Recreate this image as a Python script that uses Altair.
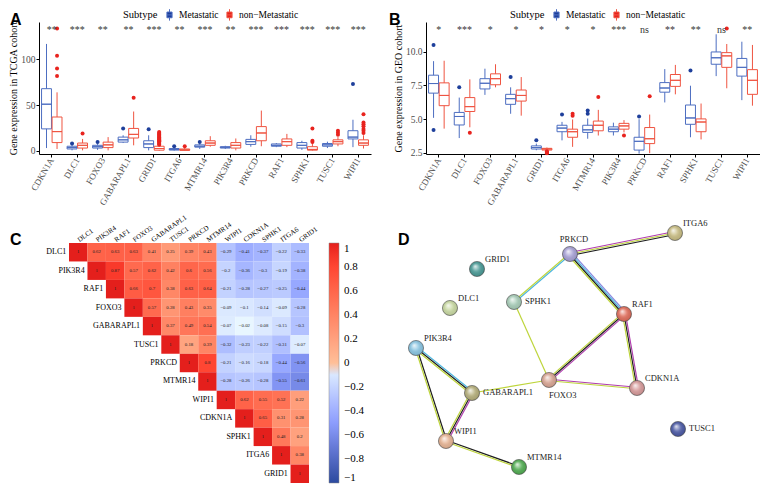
import altair as alt
import pandas as pd
import math

SERIF = "Liberation Serif"
SANS = "Liberation Sans"

genes = ["CDKN1A", "DLC1", "FOXO3", "GABARAPL1", "GRID1", "ITGA6", "MTMR14",
         "PIK3R4", "PRKCD", "RAF1", "SPHK1", "TUSC1", "WIPI1"]
groups = ["Metastatic", "non\u2212Metastatic"]

# box stats: [lower whisker, q1, median, q3, upper whisker]
tcga_met = [[3, 24, 51, 68, 117], [0.5, 2, 3.5, 5, 7], [1, 3, 4.5, 6, 8], [8.5, 9.5, 12, 15, 17],
            [0.5, 3.5, 7.5, 11, 17], [0.2, 0.8, 1.5, 2.5, 4], [2, 4, 5, 6.5, 8], [2, 3, 3.8, 4.5, 5.5],
            [4.5, 7, 10, 12.5, 17], [4, 5, 6, 7.5, 8.5], [1, 3, 6, 9, 11], [3, 5, 6.5, 8, 10],
            [4, 13, 15, 22, 34]]
tcga_non = [[2, 9, 21, 37, 64], [0.5, 3, 6, 8.5, 13], [0.5, 3.5, 6.5, 9.5, 15], [6, 14, 18, 24.5, 43],
            [0.1, 0.7, 2.5, 5, 5.5], [0.1, 0.5, 1, 2, 3.5], [4.5, 6, 8.5, 11, 16], [0.5, 3, 6, 9, 13.5],
            [5, 11, 19.5, 26.5, 44], [4, 6, 10, 13, 18.5], [0.2, 0.7, 1.5, 4.5, 8.5], [5, 7.5, 10, 12, 15],
            [2.5, 6, 8.5, 12, 17]]
tcga_out_met = {"DLC1": [8], "FOXO3": [9.5], "GABARAPL1": [24.5], "GRID1": [23.5], "ITGA6": [5],
                "MTMR14": [9.5], "WIPI1": [73]}
tcga_out_non = {"CDKN1A": [82, 90, 104, 134], "DLC1": [19], "GABARAPL1": [58],
                "GRID1": [6.5, 7.5, 8.5, 9.5, 10.5, 11.5, 12.5, 13.5, 14.5, 15.5, 16.5, 17.5, 18.5, 19.5, 20.5],
                "ITGA6": [5], "SPHK1": [9.5, 11, 24.5], "TUSC1": [17.7, 19.7, 22],
                "WIPI1": [19.5, 22, 24, 27, 29, 31, 40]}
tcga_stars = ["**", "***", "**", "**", "***", "**", "***", "**", "***", "***", "***", "***", "***"]

geo_met = [[5.1, 6.93, 7.64, 8.26, 9.3], [3.6, 4.57, 5.2, 5.5, 6.6], [6.8, 7.24, 7.66, 8.0, 8.74],
           [5.4, 6.1, 6.52, 6.84, 7.36], [2.7, 2.79, 2.9, 3.02, 3.19], [3.43, 4.07, 4.34, 4.55, 4.8],
           [3.55, 4.02, 4.21, 4.55, 5.05], [3.79, 4.07, 4.26, 4.43, 4.74], [2.45, 2.71, 3.36, 3.66, 5.0],
           [6.24, 7.0, 7.31, 7.71, 8.71], [3.66, 4.62, 5.09, 6.05, 7.48], [8.19, 9.07, 9.55, 9.98, 11.29],
           [6.41, 8.19, 8.84, 9.5, 10.74]]
geo_non = [[4.3, 6.0, 6.76, 7.69, 9.33], [4.4, 5.57, 5.93, 6.6, 7.95], [7.36, 7.55, 8.0, 8.36, 9.07],
           [5.26, 6.34, 6.76, 7.16, 8.12], [2.7, 2.71, 2.79, 2.84, 2.9], [2.95, 3.66, 4.07, 4.26, 4.98],
           [3.79, 4.14, 4.55, 4.86, 5.69], [4.02, 4.26, 4.5, 4.69, 4.93], [2.48, 3.19, 3.55, 4.38, 5.34],
           [6.84, 7.43, 7.88, 8.31, 9.02], [3.5, 4.07, 4.79, 5.02, 6.16], [7.29, 8.84, 9.69, 9.93, 10.57],
           [6.0, 6.84, 7.88, 8.67, 10.5]]
geo_out_met = {"CDKN1A": [10.5, 4.2], "DLC1": [7.36], "GABARAPL1": [8.12], "GRID1": [3.43],
               "ITGA6": [5.34], "MTMR14": [5.64, 5.4], "PRKCD": [5.2], "SPHK1": [8.6]}
geo_out_non = {"DLC1": [4.0], "GRID1": [2.62, 2.57, 2.52, 2.47], "ITGA6": [5.4, 5.26], "MTMR14": [6.64],
               "PIK3R4": [3.79], "PRKCD": [6.69], "TUSC1": [11.71]}
geo_stars = ["*", "***", "*", "*", "*", "*", "*", "***", "ns", "**", "**", "ns", "**"]

# correlation matrix (upper triangle, each row starts at the diagonal)
corr_genes = ["DLC1", "PIK3R4", "RAF1", "FOXO3", "GABARAPL1", "TUSC1", "PRKCD", "MTMR14",
              "WIPI1", "CDKN1A", "SPHK1", "ITGA6", "GRID1"]
corr_upper = [
    [1, 0.62, 0.63, 0.63, 0.41, 0.25, 0.39, 0.43, -0.29, -0.41, -0.37, -0.22, -0.33],
    [1, 0.87, 0.57, 0.62, 0.42, 0.6, 0.56, -0.2, -0.36, -0.3, -0.19, -0.38],
    [1, 0.66, 0.7, 0.38, 0.63, 0.64, -0.21, -0.28, -0.27, -0.25, -0.44],
    [1, 0.57, 0.28, 0.43, 0.35, -0.09, -0.1, -0.14, -0.09, -0.28],
    [1, 0.37, 0.49, 0.54, -0.07, -0.02, -0.08, -0.15, -0.3],
    [1, 0.18, 0.39, -0.32, -0.23, -0.22, -0.31, -0.07],
    [1, 0.8, -0.21, -0.16, -0.18, -0.44, -0.56],
    [1, -0.28, -0.26, -0.28, -0.55, -0.61],
    [1, 0.62, 0.55, 0.52, 0.22],
    [1, 0.65, 0.31, 0.28],
    [1, 0.48, 0.2],
    [1, 0.38],
    [1],
]
legend_ticks = [-1, -0.8, -0.6, -0.4, -0.2, 0, 0.2, 0.4, 0.6, 0.8, 1]

# STRING network
node_names = ["PRKCD", "ITGA6", "GRID1", "DLC1", "SPHK1", "RAF1", "PIK3R4", "FOXO3", "CDKN1A",
              "GABARAPL1", "TUSC1", "WIPI1", "MTMR14"]
node_x = [570, 675, 477, 450, 514, 624, 416, 549, 637, 472, 678, 446, 519]
node_y = [253, 232, 268, 307, 301, 313, 347, 379, 387, 392, 428, 440, 466]
node_colors = ["#A9A3D6", "#C9BE86", "#4E9C98", "#C9D9A4", "#A9CDB9", "#E0705E", "#8CC6E2",
               "#D9A796", "#D79C9C", "#B6B07E", "#4F5DA6", "#E6B596", "#55AE56"]
edges = [
    ("PRKCD", "ITGA6", ["experiments", "textmining", "coexpression"]),
    ("PRKCD", "SPHK1", ["database", "textmining"]),
    ("PRKCD", "RAF1", ["homology", "database", "coexpression", "textmining"]),
    ("SPHK1", "FOXO3", ["textmining"]),
    ("RAF1", "FOXO3", ["experiments", "coexpression", "textmining"]),
    ("RAF1", "CDKN1A", ["experiments", "coexpression", "textmining"]),
    ("FOXO3", "CDKN1A", ["experiments", "textmining"]),
    ("FOXO3", "GABARAPL1", ["textmining"]),
    ("PIK3R4", "GABARAPL1", ["database", "coexpression", "textmining"]),
    ("PIK3R4", "WIPI1", ["coexpression", "textmining"]),
    ("GABARAPL1", "WIPI1", ["experiments", "coexpression", "textmining"]),
    ("WIPI1", "MTMR14", ["coexpression", "textmining"]),
]
evidence = ["experiments", "textmining", "coexpression", "database", "homology"]
evidence_colors = ["#B03DAE", "#BED53C", "#1E1E1E", "#4DB6DF", "#8A8AE0"]

# ---------------------------------------------------------------- box panels
BOX_STROKE = ["#4D6EC1", "#EF5441"]
OUT_FILL = ["#1E3F9B", "#E8231E"]
box_sym = "M-0.45,-0.5H0.45V0.5H-0.45Z M-0.45,0H0.45 M0,-0.5V-1 M0,0.5V1"


def box_panel(met, non, out_met, out_non, stars, ydom, yvals, yfmt, ytitle, letter, w, h, lx, letter_x):
    rows = []
    for g, m, n in zip(genes, met, non):
        for grp, s in ((groups[0], m), (groups[1], n)):
            rows.append(dict(gene=g, grp=grp, lo=s[0], q1=s[1], med=s[2], q3=s[3], hi=s[4]))
    df = pd.DataFrame(rows)
    outs = []
    for grp, od in ((groups[0], out_met), (groups[1], out_non)):
        for g, vs in od.items():
            for v in vs:
                outs.append(dict(gene=g, grp=grp, v=v))
    odf = pd.DataFrame(outs)
    sdf = pd.DataFrame(dict(gene=genes, s=stars))

    xenc = alt.X("gene:N", sort=genes, scale=alt.Scale(paddingInner=0.2, paddingOuter=0.1),
                 axis=alt.Axis(title=None, labelAngle=-60, labelAlign="right", labelBaseline="middle",
                               labelFont=SERIF, labelFontSize=9, labelColor="#4D4D4D",
                               domainColor="black", tickColor="black", tickSize=3, labelPadding=1))
    xoff = alt.XOffset("grp:N", sort=groups, scale=alt.Scale(paddingInner=0.06))
    yscale = alt.Scale(domain=ydom, nice=False, zero=False)
    yaxis = alt.Axis(title=ytitle, values=yvals, format=yfmt, grid=False, domainColor="black",
                     tickColor="black", tickSize=3, labelFont=SERIF, labelFontSize=9.5,
                     labelColor="#4D4D4D", labelPadding=1, titleFont=SERIF, titleFontSize=10,
                     titleFontWeight="normal", titlePadding=2, titleColor="black")
    sscale = alt.Scale(domain=groups, range=BOX_STROKE)
    leg = alt.Legend(title="Subtype", orient="none", direction="horizontal",
                     titleOrient="left", legendX=lx, legendY=-14,
                     symbolType=box_sym, symbolSize=130, symbolStrokeWidth=1,
                     symbolFillColor="white",
                     titleFont=SERIF, titleFontSize=10.5,
                     titleFontWeight="normal", labelFont=SERIF, labelFontSize=9.5,
                     columnPadding=4, titlePadding=5, labelOffset=3)
    stroke = alt.Stroke("grp:N", sort=groups, scale=sscale, legend=leg)
    base = alt.Chart(df)
    # legend carrier first: an unfilled box-shaped point layer without rows
    legl = alt.Chart(df.iloc[0:0]).mark_point(shape=box_sym, filled=False, strokeWidth=1, opacity=1).encode(
        x=xenc, xOffset=xoff, y=alt.Y("med:Q", scale=yscale, axis=yaxis), stroke=stroke)
    whisk = base.mark_rule(strokeWidth=1).encode(
        x=xenc, xOffset=xoff, y=alt.Y("lo:Q", scale=yscale, axis=yaxis), y2="hi:Q", stroke=stroke)
    box = base.mark_bar(fill="white", strokeWidth=1).encode(
        x=xenc, xOffset=xoff, y=alt.Y("q1:Q", scale=yscale, axis=yaxis), y2="q3:Q", stroke=stroke)
    med = base.mark_bar(fill="white", strokeWidth=1).encode(
        x=xenc, xOffset=xoff, y=alt.Y("med:Q", scale=yscale, axis=yaxis), y2="med:Q", stroke=stroke)
    pts = alt.Chart(odf).mark_circle(size=16, opacity=1).encode(
        x=xenc, xOffset=xoff, y=alt.Y("v:Q", scale=yscale, axis=yaxis),
        fill=alt.Fill("grp:N", sort=groups, scale=alt.Scale(domain=groups, range=OUT_FILL), legend=None))
    st = alt.Chart(sdf).mark_text(font=SERIF, fontSize=10, color="#333333", baseline="middle").encode(
        x=xenc, y=alt.value(8), text="s:N")
    lt = alt.Chart(pd.DataFrame(dict(t=[letter]))).mark_text(
        font=SANS, fontWeight="bold", fontSize=16, align="left", baseline="alphabetic", color="black").encode(
        x=alt.value(letter_x), y=alt.value(3), text="t:N")
    return alt.layer(legl, whisk, box, med, pts, st, lt).properties(width=w, height=h)


A = box_panel(tcga_met, tcga_non, tcga_out_met, tcga_out_non, tcga_stars, [-3.5, 141], [0, 50, 100], "d",
              "Gene expression in TCGA cohort", "A", 332, 132, 84, -29)
B = box_panel(geo_met, geo_non, geo_out_met, geo_out_non, geo_stars, [2.42, 12.2], [2.5, 5.0, 7.5, 10.0], ".1f",
              "Gene expression in GEO cohort", "B", 334, 132, 84, -37)

# ---------------------------------------------------------------- correlation panel
crow = []
for i, vals in enumerate(corr_upper):
    for k, v in enumerate(vals):
        j = i + k
        crow.append(dict(row=corr_genes[i], col=corr_genes[j], v=v,
                         lab=("%g" % v).replace("-", "\u2212")))
cdf = pd.DataFrame(crow)
ddf = pd.DataFrame(dict(row=corr_genes, col=corr_genes))
CELL = 240
CLEFT = 30
xC = alt.X("col:N", sort=corr_genes, scale=alt.Scale(paddingInner=0, paddingOuter=0, range=[CLEFT, CLEFT + CELL]),
           axis=alt.Axis(orient="top", title=None, labelAngle=-35, labelAlign="left", labelBaseline="middle",
                         domain=False, ticks=False, labelPadding=3, labelFont=SERIF, labelFontSize=7,
                         labelColor="black"))
yC = alt.Y("row:N", sort=corr_genes, scale=alt.Scale(paddingInner=0, paddingOuter=0), axis=None)
crect = alt.Chart(cdf).mark_rect().encode(
    x=xC, y=yC,
    color=alt.Color("v:Q", scale=alt.Scale(domain=[-1, 0, 1], range=["#2B4A9F", "#FFFFFF", "#E41F1C"]),
                    legend=alt.Legend(title=None, orient="right", offset=20, gradientLength=CELL,
                                      gradientThickness=10, values=legend_ticks, direction="vertical",
                                      format="~g", labelFont=SERIF, labelFontSize=11, labelColor="black",
                                      gradientStrokeColor="#888888", gradientStrokeWidth=0.5,
                                      labelOffset=5,
                                      labelExpr="replace(datum.label, '-', '\u2212')")))
ctext = alt.Chart(cdf).mark_text(font=SERIF, fontSize=4.8, color="#222222").encode(x=xC, y=yC, text="lab:N")
clab = alt.Chart(ddf).mark_text(font=SERIF, fontSize=8, align="right", dx=-12, color="black").encode(
    x=xC, y=yC, text="row:N")
cletter = alt.Chart(pd.DataFrame(dict(t=["C"]))).mark_text(
    font=SANS, fontWeight="bold", fontSize=16, align="left", baseline="alphabetic", color="black").encode(
    x=alt.value(-29), y=alt.value(2), text="t:N")
C = alt.layer(crect, ctext, clab, cletter).properties(width=CLEFT + CELL, height=CELL)

# ---------------------------------------------------------------- network panel
pos = {n: (x, y) for n, x, y in zip(node_names, node_x, node_y)}
erows = []
gap = 1.5
for a, b, chans in edges:
    ax_, ay_ = pos[a]
    bx_, by_ = pos[b]
    L = math.hypot(bx_ - ax_, by_ - ay_)
    px, py = -(by_ - ay_) / L, (bx_ - ax_) / L
    n = len(chans)
    for k, c in enumerate(chans):
        off = (k - (n - 1) / 2) * gap
        erows.append(dict(x=ax_ + px * off, y=ay_ + py * off, x2=bx_ + px * off, y2=by_ + py * off, ev=c))
edf = pd.DataFrame(erows)
ndf = pd.DataFrame(dict(name=node_names, x=node_x, y=node_y))
DX0, DW = 426, 334
DY0, DH = 242, 240
xD = alt.X("x:Q", scale=alt.Scale(domain=[DX0, DX0 + DW], nice=False, zero=False), axis=None)
yD = alt.Y("y:Q", scale=alt.Scale(domain=[DY0, DY0 + DH], nice=False, zero=False, reverse=True), axis=None)
elines = alt.Chart(edf).mark_rule(strokeWidth=1.2).encode(
    x=xD, y=yD, x2="x2:Q", y2="y2:Q",
    color=alt.Color("ev:N", scale=alt.Scale(domain=evidence, range=evidence_colors), legend=None))
nbase = alt.Chart(ndf).mark_circle(size=230, opacity=1, stroke="#555555", strokeWidth=0.6).encode(
    x=xD, y=yD, fill=alt.Fill("name:N", scale=alt.Scale(domain=node_names, range=node_colors), legend=None))
shine = {"gradient": "radial", "x1": 0.38, "y1": 0.32, "r1": 0, "x2": 0.5, "y2": 0.5, "r2": 0.55,
         "stops": [{"offset": 0, "color": "rgba(255,255,255,0.85)"},
                   {"offset": 0.45, "color": "rgba(255,255,255,0.15)"},
                   {"offset": 0.8, "color": "rgba(0,0,0,0.05)"},
                   {"offset": 1, "color": "rgba(0,0,0,0.35)"}]}
nshine = alt.Chart(ndf).mark_circle(size=230, opacity=1, fill=shine).encode(x=xD, y=yD)

lab_style = {"PRKCD": "above", "FOXO3": "below", "GABARAPL1": "right", "SPHK1": "right", "TUSC1": "right"}
layers = [elines, nbase, nshine]
styles = {"upright": dict(align="left", dx=8, dy=-10), "right": dict(align="left", dx=11, dy=-1),
          "above": dict(align="center", dx=4, dy=-15), "below": dict(align="left", dx=0, dy=15)}
for sname, kw in styles.items():
    names = [n for n in node_names if lab_style.get(n, "upright") == sname]
    sub = ndf[ndf.name.isin(names)]
    layers.append(alt.Chart(sub).mark_text(font=SERIF, fontSize=8.5, color="#222222", baseline="middle", **kw)
                  .encode(x=xD, y=yD, text="name:N"))
dletter = alt.Chart(pd.DataFrame(dict(t=["D"]))).mark_text(
    font=SANS, fontWeight="bold", fontSize=16, align="left", baseline="alphabetic", color="black").encode(
    x=alt.value(-28), y=alt.value(2), text="t:N")
layers.append(dletter)
D = alt.layer(*layers).properties(width=DW, height=DH)

res = dict(x="independent", y="independent", color="independent", fill="independent",
           stroke="independent", xOffset="independent")
chart = alt.concat(A, B, C, D, columns=2, bounds="full",
                   spacing={"row": 6, "column": 18}).resolve_scale(**res).configure_view(stroke=None).properties(
    background="white", padding=0)
chart.save("out.html", embed_options={"renderer": "svg", "actions": False})
